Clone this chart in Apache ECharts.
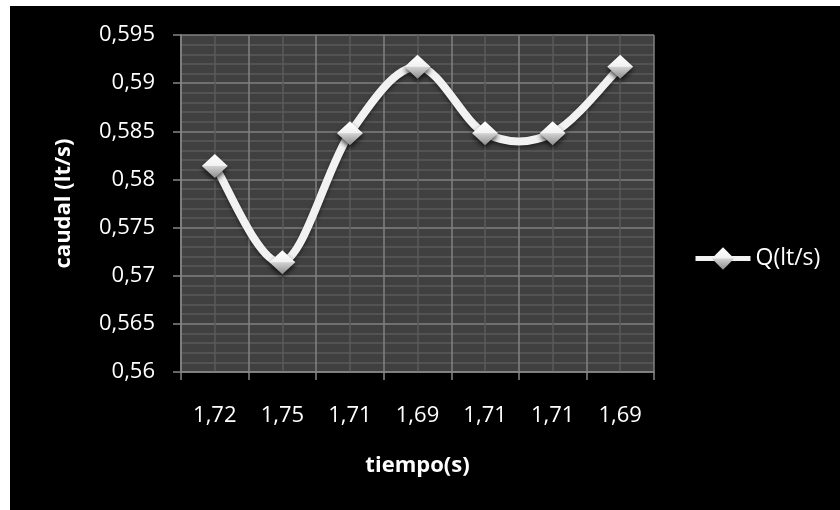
<!DOCTYPE html>
<html>
<head>
<meta charset="utf-8">
<script src="https://cdn.jsdelivr.net/npm/echarts@6/dist/echarts.min.js"></script>
<style>
  html, body { margin: 0; padding: 0; background: #ffffff; }
  #chart { position: absolute; left: 10px; top: 6px; width: 830px; height: 504px; background: #000; }
</style>
</head>
<body>
<div id="chart"></div>
<script>
// Measured flow vs. time readings
const tiempoLabels = ['1,72', '1,75', '1,71', '1,69', '1,71', '1,71', '1,69'];
const caudal = [0.5814, 0.5714, 0.5848, 0.5917, 0.5848, 0.5848, 0.5917];
const seriesName = 'Q(lt/s)';
const yMin = 0.56, yMax = 0.595, yStep = 0.005;

const fontFamily = '"Open Sans", "Liberation Sans", sans-serif';
const fmtComma = v => String(+v.toFixed(3)).replace('.', ',');
const lineColor = '#f2f2f2';

const markerFill = {
  type: 'linear', x: 0, y: 0, x2: 0, y2: 1,
  colorStops: [
    { offset: 0, color: '#ffffff' },
    { offset: 0.48, color: '#f2f2f2' },
    { offset: 0.52, color: '#d0d0d0' },
    { offset: 1, color: '#8c8c8c' }
  ]
};

// Cardinal-spline segment (Catmull-Rom style, tangent/6) from point i to i+1,
// computed in pixel space from the axis coordinates of the data.
function renderSegment(params, api) {
  const i = params.dataIndex;
  const n = caudal.length;
  if (i >= n - 1) return null;
  const pt = k => {
    const j = Math.max(0, Math.min(n - 1, k));
    return api.coord([j, caudal[j]]);
  };
  const p0 = pt(i - 1), p1 = pt(i), p2 = pt(i + 1), p3 = pt(i + 2);
  const c1 = [p1[0] + (p2[0] - p0[0]) / 6, p1[1] + (p2[1] - p0[1]) / 6];
  const c2 = [p2[0] - (p3[0] - p1[0]) / 6, p2[1] - (p3[1] - p1[1]) / 6];
  return {
    type: 'bezierCurve',
    shape: { x1: p1[0], y1: p1[1], x2: p2[0], y2: p2[1], cpx1: c1[0], cpy1: c1[1], cpx2: c2[0], cpy2: c2[1] },
    style: {
      stroke: lineColor, lineWidth: 8, fill: null, lineCap: 'round',
      shadowColor: 'rgba(0,0,0,0.5)', shadowBlur: 4, shadowOffsetY: 2
    }
  };
}

const chart = echarts.init(document.getElementById('chart'), null, { renderer: 'canvas' });
chart.setOption({
  animation: false,
  backgroundColor: '#000000',
  textStyle: { fontFamily: fontFamily, color: '#ffffff' },
  grid: {
    left: 171, top: 29, right: 186, bottom: 138,
    show: true, backgroundColor: '#404040', borderWidth: 0
  },
  legend: {
    left: 683, top: 241, padding: 0,
    itemWidth: 55, itemHeight: 28, itemGap: 4,
    textStyle: { color: '#ffffff', fontSize: 23, fontFamily: fontFamily },
    lineStyle: { width: 5, color: lineColor, opacity: 1 },
    data: [seriesName]
  },
  xAxis: [
    {
      type: 'category',
      data: tiempoLabels,
      boundaryGap: true,
      name: 'tiempo(s)',
      nameLocation: 'middle',
      nameGap: 83,
      nameTextStyle: { color: '#ffffff', fontSize: 22, fontWeight: 'bold', fontFamily: fontFamily },
      axisLine: { show: true, lineStyle: { color: '#868686', width: 1.5 } },
      axisTick: { show: true, length: 8, inside: false, lineStyle: { color: '#868686', width: 1.5 } },
      axisLabel: { color: '#ffffff', fontSize: 22, margin: 33, fontFamily: fontFamily },
      splitLine: { show: false }
    },
    {
      // gridlines at category boundaries (major) and centres (minor)
      type: 'value',
      min: 0, max: 7, interval: 0.5,
      position: 'bottom',
      show: true,
      axisLine: { show: false }, axisTick: { show: false }, axisLabel: { show: false },
      splitLine: { show: true, lineStyle: { color: ['#808080', '#5a5a5a'], width: 1.5 } }
    }
  ],
  yAxis: {
    type: 'value',
    min: yMin, max: yMax, interval: yStep,
    name: 'caudal (lt/s)',
    nameLocation: 'middle',
    nameGap: 106,
    nameTextStyle: { color: '#ffffff', fontSize: 22, fontWeight: 'bold', fontFamily: fontFamily },
    axisLine: { show: true, lineStyle: { color: '#868686', width: 1.5 } },
    axisTick: { show: true, length: 8, lineStyle: { color: '#868686', width: 1.5 } },
    axisLabel: { color: '#ffffff', fontSize: 22, margin: 26, fontFamily: fontFamily, formatter: fmtComma },
    splitLine: { show: true, lineStyle: { color: '#808080', width: 1.5 } },
    minorTick: { show: false, splitNumber: 5 },
    minorSplitLine: { show: true, lineStyle: { color: '#5a5a5a', width: 1.5 } }
  },
  series: [
    {
      // smoothed connecting curve
      name: 'curve',
      type: 'custom',
      xAxisIndex: 0,
      renderItem: renderSegment,
      data: caudal.map((v, i) => [i, v]),
      encode: { x: 0, y: 1 },
      z: 3,
      silent: true
    },
    {
      name: seriesName,
      type: 'line',
      xAxisIndex: 0,
      data: caudal,
      symbol: 'diamond',
      symbolSize: [26, 24],
      lineStyle: { color: lineColor, width: 8, opacity: 0 },
      itemStyle: {
        color: markerFill, borderWidth: 0,
        shadowColor: 'rgba(0,0,0,0.7)', shadowBlur: 5, shadowOffsetY: 3
      },
      z: 5
    }
  ]
});
</script>
</body>
</html>
